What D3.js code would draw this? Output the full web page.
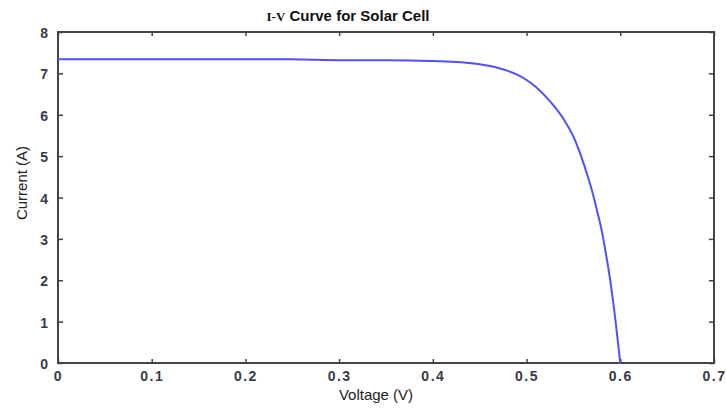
<!DOCTYPE html>
<html>
<head>
<meta charset="utf-8">
<script src="https://cdn.jsdelivr.net/npm/d3@7"></script>
<style>
  body { margin: 0; background: #fff; }
  text { font-family: Arial, "Liberation Sans", sans-serif; }
</style>
</head>
<body>
<div id="viz"></div>
<script>
// values
var voltage = [0, 0.05, 0.1, 0.15, 0.2, 0.25, 0.27, 0.3, 0.35, 0.4, 0.43, 0.45, 0.47, 0.48, 0.49,
    0.5, 0.51, 0.52, 0.53, 0.54, 0.55, 0.555, 0.56, 0.565, 0.57, 0.575, 0.58, 0.585, 0.59,
    0.595, 0.6];
var current = [7.34, 7.34, 7.34, 7.34, 7.34, 7.34, 7.33, 7.32, 7.32, 7.30, 7.27, 7.22, 7.13, 7.06, 6.97,
    6.84, 6.67, 6.45, 6.19, 5.88, 5.47, 5.2, 4.88, 4.53, 4.15, 3.7, 3.22, 2.6, 1.88,
    1.0, 0];
var xTicks = [0, 0.1, 0.2, 0.3, 0.4, 0.5, 0.6, 0.7];
var yTicks = [0, 1, 2, 3, 4, 5, 6, 7, 8];

var margin = { top: 32, right: 12, bottom: 47, left: 58 },
    width = 726 - margin.left - margin.right,
    height = 410 - margin.top - margin.bottom;

var svg = d3.select("#viz")
    .append("svg")
    .attr("width", 726)
    .attr("height", 410);

var g = svg.append("g")
    .attr("transform", "translate(" + margin.left + "," + margin.top + ")");

var x = d3.scaleLinear().domain([0, 0.7]).range([0, width]);
var y = d3.scaleLinear().domain([0, 8]).range([height, 0]);

var axisColor = "#444";
var labelColor = "#3a3a4a";

// box
g.append("rect")
    .attr("width", width)
    .attr("height", height)
    .attr("fill", "none")
    .attr("stroke", axisColor)
    .attr("stroke-width", 2);

// ticks pointing inward, on all four sides
var fmt = function (d) { return d === 0 ? "0" : d3.format(".1f")(d); };

var axBottom = g.append("g")
    .attr("transform", "translate(0," + height + ")")
    .call(d3.axisBottom(x).tickValues(xTicks).tickSizeInner(-4).tickSizeOuter(0).tickPadding(8).tickFormat(fmt));
var axTop = g.append("g")
    .call(d3.axisTop(x).tickValues(xTicks).tickSizeInner(-4).tickSizeOuter(0).tickFormat(""));
var axLeft = g.append("g")
    .call(d3.axisLeft(y).tickValues(yTicks).tickSizeInner(-5).tickSizeOuter(0).tickPadding(10));
var axRight = g.append("g")
    .attr("transform", "translate(" + width + ",0)")
    .call(d3.axisRight(y).tickValues(yTicks).tickSizeInner(-5).tickSizeOuter(0).tickFormat(""));

[axBottom, axTop, axLeft, axRight].forEach(function (a) {
    a.select(".domain").remove();
    a.selectAll("line").attr("stroke", axisColor).attr("stroke-width", 1.5);
    a.selectAll("text")
        .attr("fill", labelColor)
        .style("font-size", "14px")
        .style("font-weight", "bold");
});
axBottom.selectAll("text").style("letter-spacing", "1.5px");
axLeft.selectAll("text").attr("dy", "0.4em");

// curve
var line = d3.line()
    .x(function (d, i) { return x(voltage[i]); })
    .y(function (d) { return y(d); })
    .curve(d3.curveMonotoneX);

g.append("path")
    .datum(current)
    .attr("fill", "none")
    .attr("stroke", "#5050ff")
    .attr("stroke-width", 2)
    .attr("d", line);

// title
var title = svg.append("text")
    .attr("x", 348)
    .attr("y", 21)
    .style("text-anchor", "middle")
    .style("font-size", "15px")
    .style("font-weight", "bold")
    .attr("fill", "#111");
title.append("tspan")
    .style("font-family", "'Liberation Serif', 'DejaVu Serif', serif")
    .style("font-size", "13px")
    .text("I-V");
title.append("tspan").text(" Curve for Solar Cell");

// axis labels
svg.append("text")
    .attr("x", 376)
    .attr("y", 400)
    .style("text-anchor", "middle")
    .style("font-size", "15px")
    .attr("fill", "#222")
    .text("Voltage (V)");

svg.append("text")
    .attr("transform", "translate(27,183) rotate(-90)")
    .style("text-anchor", "middle")
    .style("font-size", "15px")
    .attr("fill", "#222")
    .text("Current (A)");
</script>
</body>
</html>
